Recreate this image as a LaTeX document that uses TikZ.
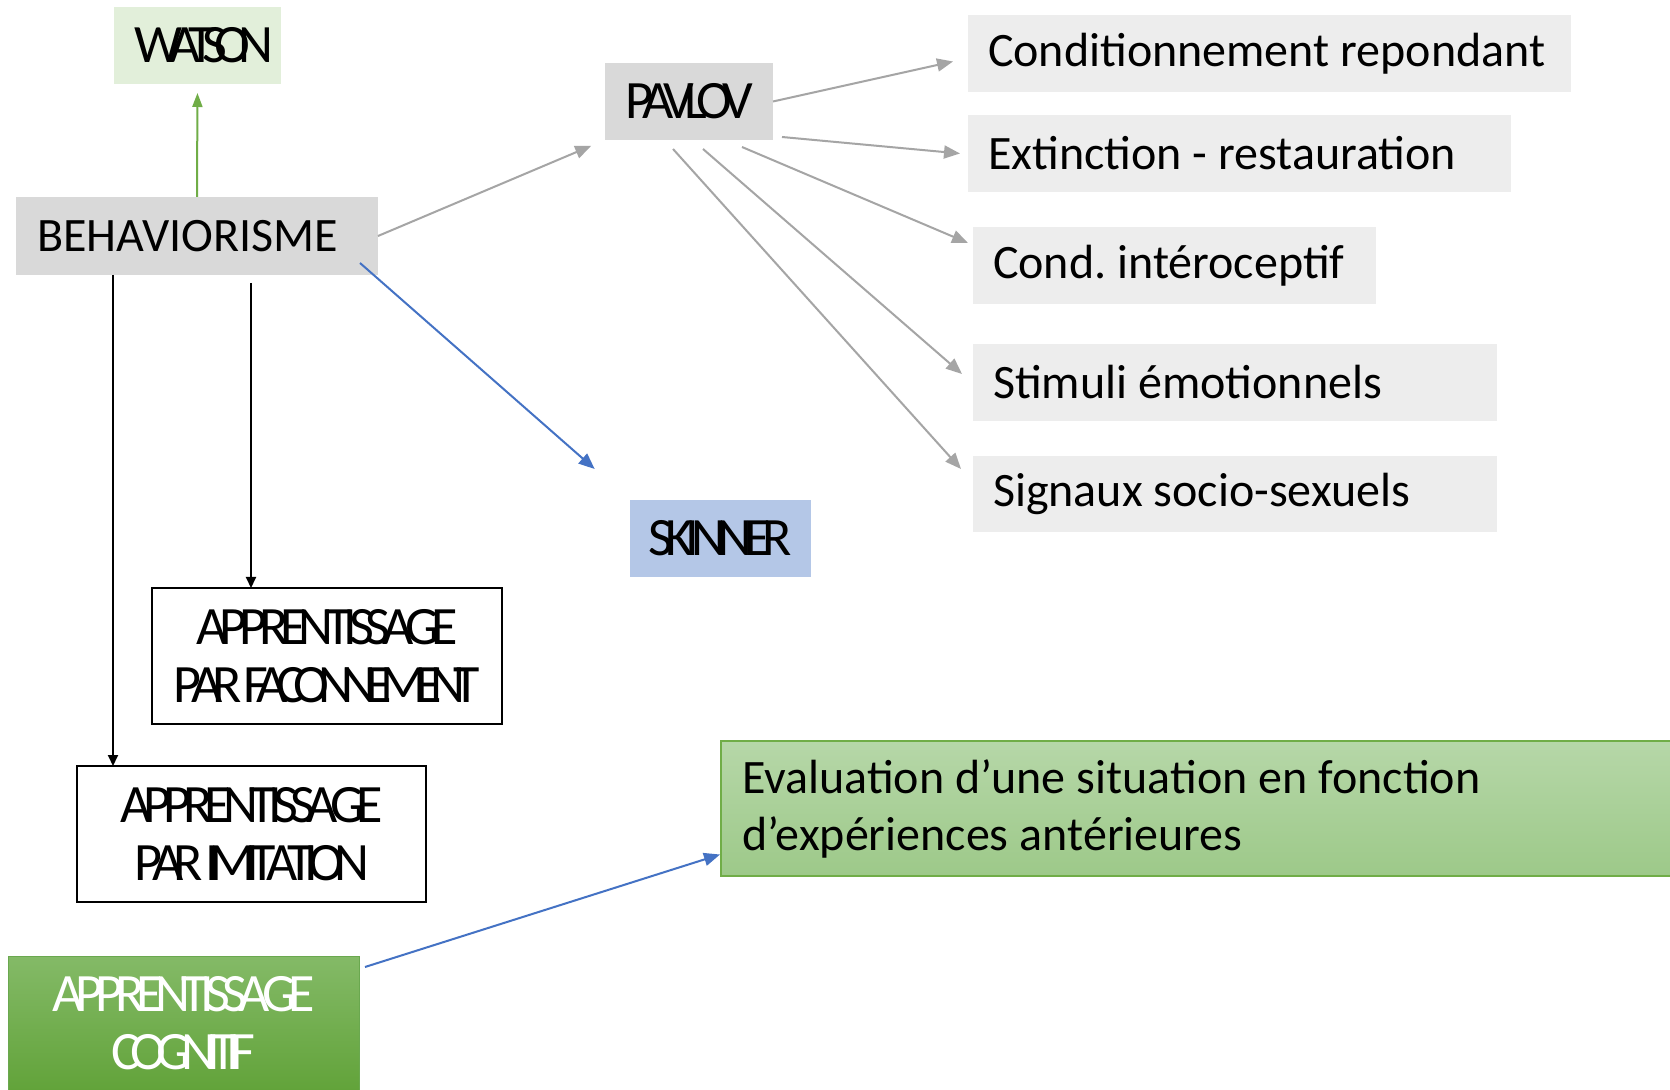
\documentclass[tikz,border=0pt]{standalone}
\usepackage{fontspec}
\setmainfont{Carlito}
\usetikzlibrary{arrows.meta,calc}
\definecolor{behfill}{HTML}{D9D9D9}
\definecolor{rfill}{HTML}{EDEDED}
\definecolor{watfill}{HTML}{E2EFDA}
\definecolor{skfill}{HTML}{B4C7E7}
\definecolor{arrgray}{HTML}{A5A5A5}
\definecolor{arrblue}{HTML}{4472C4}
\definecolor{arrgreen}{HTML}{70AD47}
\definecolor{evtop}{HTML}{B6D7A8}
\definecolor{evbot}{HTML}{9DC989}
\definecolor{cogtop}{HTML}{84BA67}
\definecolor{cogbot}{HTML}{62A33A}
\definecolor{cogline}{HTML}{6AA84F}
\frenchspacing
\let\czend\relax
\def\czk{-0.16em}
\def\cz#1{\czfirst#1\czend}
\def\czfirst#1{#1\czloop}
\def\czloop#1{\ifx#1\czend\else\kern\czk#1\expandafter\czloop\fi}
\def\czw#1#2{{\def\czk{#1}\cz{#2}}}
\def\tightsp{\spaceskip=0.23em\relax}
\begin{document}
\begin{tikzpicture}[x=0.5pt,y=-0.5pt,
  box/.style={rectangle, inner sep=0pt, outer sep=0pt},
  cond/.style={box, font=\fontsize{27}{29}\selectfont, align=center},
  norm/.style={box, font=\fontsize{24}{28.5}\selectfont, align=left, inner xsep=10pt, execute at begin node=\tightsp},
  rbox/.style={norm, fill=rfill, minimum height=38.5pt},
  framed/.style={cond, draw=black, line width=1pt, minimum width=175pt, minimum height=68pt},
  grayarr/.style={draw=arrgray, line width=1pt, -{Triangle[length=8pt,width=6.5pt]}},
  bluearr/.style={draw=arrblue, line width=1pt, -{Triangle[length=8pt,width=6.5pt]}},
  greenarr/.style={draw=arrgreen, line width=1pt, -{Triangle[length=7pt,width=5pt]}},
  blackarr/.style={draw=black, line width=1pt, -{Triangle[length=5.5pt,width=5pt]}}]
\useasboundingbox (0,0) rectangle (1670,1090);
\fill[white] (0,0) rectangle (1670,1090);
\clip (0,0) rectangle (1670,1090);

% nodes
\node[cond, fill=watfill, minimum width=83.5pt, minimum height=38.5pt] (wat) at (197.5,45.5) {\hspace{6pt}\czw{-0.23em}{WATSON}};
\node[norm, fill=behfill, minimum height=39pt, text width=160pt, inner xsep=10.5pt] (beh) at (197,236) {BEHAVIORISME};
\node[cond, fill=behfill, minimum width=84pt, minimum height=38.5pt] (pav) at (689,101.5) {\czw{-0.19em}{PAVLOV}};
\node[cond, fill=skfill, minimum width=90.5pt, minimum height=38.5pt] (sk) at (720.5,538.5) {\czw{-0.15em}{SKINNER}};
\node[framed, fill=white] (fac) at (327,656) {\czw{-0.15em}{APPRENTISSAGE}\\\czw{-0.19em}{PAR}\kern0.02em\czw{-0.21em}{FACONNEMENT}};
\node[framed, fill=white, minimum width=174.5pt] (imi) at (251.5,834) {\czw{-0.15em}{APPRENTISSAGE}\\\czw{-0.18em}{PAR}\kern0.04em\czw{-0.18em}{IMITATION}};
\node[cond, top color=cogtop, bottom color=cogbot, draw=cogline, line width=0.5pt, text=white, minimum width=175.5pt, minimum height=67pt] (cog) at (183.5,1023) {\czw{-0.15em}{APPRENTISSAGE}\\\czw{-0.18em}{COGNITIF}};
\node[norm, top color=evtop, bottom color=evbot, draw=arrgreen, line width=0.6pt, inner xsep=10.5pt, text width=463.5pt, minimum height=67.5pt] (ev) at (1205.5,808.5) {Evaluation d’une situation en fonction\\d’expériences antérieures};

\node[rbox, text width=281.5pt] (c1) at (1269.5,53.5) {Conditionnement repondant};
\node[rbox, text width=251.5pt] (c2) at (1239.5,153.5) {Extinction - restauration};
\node[rbox, text width=181.5pt] (c3) at (1174.5,265.5) {Cond. intéroceptif};
\node[rbox, text width=242pt] (c4) at (1235,382.5) {Stimuli émotionnels};
\node[rbox, text width=242pt, minimum height=38pt] (c5) at (1235,494) {Signaux socio-sexuels};

% connectors
\draw[greenarr, shorten >=4.5pt] (beh.north) -- (wat.south);
\draw[grayarr, shorten >=7.5pt] (beh.east) -- (pav.south west);
\draw[bluearr, shorten >=23.5pt] ($(beh.south east)+(-18,-12)$) -- (sk.north west);
\coordinate (b1) at ($(beh.south west)+(97,0)$);
\coordinate (b2) at ($(beh.south west)+(235,8)$);
\draw[blackarr] (b1) -- (b1 |- imi.north);
\draw[blackarr] (b2) -- (b2 |- fac.north);

\draw[grayarr] (pav.east) -- ($(c1.west)+(-15,8)$);
\draw[grayarr] ($(pav.south east)+(9,-3)$) -- ($(c2.west)+(-8,0)$);
\draw[grayarr] ($(pav.south)+(53,7)$) -- ($(c3.north west)+(-5,16)$);
\draw[grayarr] ($(pav.south)+(14,9)$) -- ($(c4.north west)+(-11,30)$);
\draw[grayarr] ($(pav.south)+(-16,9)$) -- ($(c5.north west)+(-12,13)$);

\draw[bluearr] ($(cog.north east)+(6,11)$) -- ($(ev.west)+(-1,46)$);
\end{tikzpicture}
\end{document}
